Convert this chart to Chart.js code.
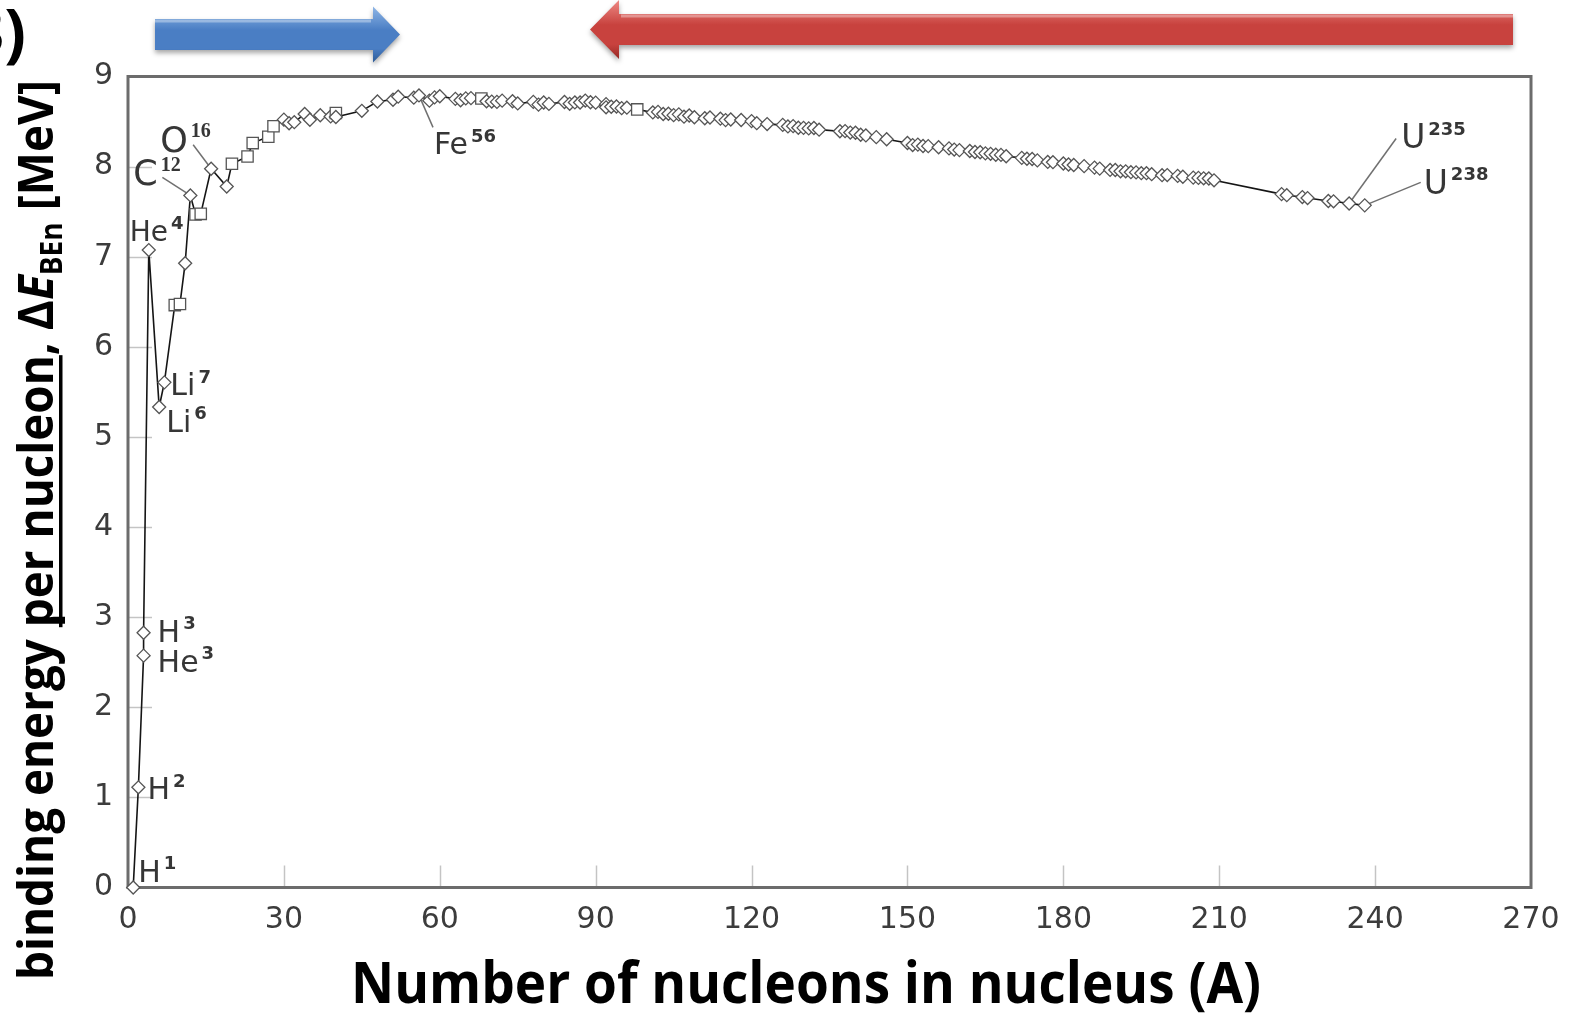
<!DOCTYPE html>
<html>
<head>
<meta charset="utf-8">
<script src="https://cdn.jsdelivr.net/npm/chart.js@4.4.1/dist/chart.umd.min.js"></script>
<style>
html,body{margin:0;padding:0;background:#fff;overflow:hidden}
canvas{display:block}
</style>
</head>
<body>
<canvas id="grafico" width="1572" height="1017"></canvas>
<script>
/* ===================== data ===================== */
const isotope = ['H1','H2','He3','H3','He4','Li6','Li7','Be9','B10','B11','C12','C13','N14','O16','F19','Ne20','Na23','Mg24','Al27','Si28',
  'Si30','P31','S32','S34','Cl35','Cl37','K39','Ar40','Ca40','Sc45','Ti48','V51','Cr52','Mn55','Fe56','Ni58','Co59','Ni60','Cu63','Zn64',
  'Cu65','Zn66','Zn68','Ga69','Ge70','Ga71','Ge72','Ge74','As75','Se78','Br79','Se80','Br81','Kr84','Rb85','Kr86','Rb87','Sr88','Y89','Zr90',
  'Zr92','Mo92','Nb93','Zr94','Mo95','Mo96','Mo98','Ru101','Ru102','Rh103','Ru104','Pd105','Pd106','Ag107','Pd108','Ag109','Cd111','Cd112','Cd114','In115',
  'Sn116','Sn118','Sn120','Sb121','Sb123','Te126','I127','Te128','Xe129','Te130','Xe131','Xe132','Cs133','Ba137','Ba138','La139','Ce140','Pr141','Nd142','Nd144',
  'Nd146','Sm150','Eu151','Sm152','Eu153','Sm154','Gd156','Gd158','Tb159','Gd160','Dy162','Dy163','Dy164','Ho165','Er166','Er167','Er168','Tm169','Yb172','Yb173',
  'Yb174','Lu175','Hf177','Hf178','Hf180','Ta181','W182','W184','W186','Re187','Os189','Os190','Ir191','Os192','Ir193','Pt194','Pt195','Pt196','Au197','Hg199',
  'Hg200','Hg202','Tl203','Tl205','Pb206','Pb207','Pb208','Bi209','Rn222','Fr223','Ra226','Ac227','Pa231','Th232','U235','U238'];

const massNumber = [1,2,3,3,4,6,7,9,10,11,12,13,14,16,19,20,23,24,27,28,
  30,31,32,34,35,37,39,40,40,45,48,51,52,55,56,58,59,60,63,64,
  65,66,68,69,70,71,72,74,75,78,79,80,81,84,85,86,87,88,89,90,
  92,92,93,94,95,96,98,101,102,103,104,105,106,107,108,109,111,112,114,115,
  116,118,120,121,123,126,127,128,129,130,131,132,133,137,138,139,140,141,142,144,
  146,150,151,152,153,154,156,158,159,160,162,163,164,165,166,167,168,169,172,173,
  174,175,177,178,180,181,182,184,186,187,189,190,191,192,193,194,195,196,197,199,
  200,202,203,205,206,207,208,209,222,223,226,227,231,232,235,238];

// MeV per nucleon
const bindingPerNucleon = [0,1.112,2.573,2.827,7.074,5.332,5.606,6.463,6.475,6.928,7.680,7.470,7.476,7.976,7.779,8.032,8.112,8.261,8.332,8.448,
  8.521,8.481,8.493,8.584,8.520,8.570,8.557,8.595,8.551,8.619,8.723,8.742,8.776,8.765,8.790,8.732,8.768,8.781,8.752,8.736,
  8.757,8.760,8.756,8.725,8.722,8.718,8.732,8.725,8.701,8.718,8.688,8.711,8.696,8.717,8.697,8.712,8.711,8.733,8.714,8.710,
  8.693,8.658,8.664,8.667,8.649,8.654,8.635,8.601,8.607,8.584,8.587,8.571,8.580,8.554,8.567,8.548,8.537,8.545,8.532,8.516,
  8.523,8.517,8.505,8.482,8.472,8.463,8.446,8.449,8.431,8.430,8.424,8.428,8.410,8.392,8.394,8.378,8.376,8.354,8.346,8.327,
  8.304,8.262,8.239,8.244,8.229,8.227,8.215,8.202,8.189,8.183,8.173,8.162,8.159,8.147,8.142,8.132,8.130,8.115,8.097,8.087,
  8.084,8.069,8.052,8.049,8.035,8.023,8.018,8.005,7.989,7.978,7.963,7.962,7.948,7.948,7.938,7.936,7.927,7.927,7.916,7.905,
  7.906,7.897,7.887,7.878,7.875,7.870,7.868,7.848,7.695,7.683,7.662,7.651,7.618,7.615,7.591,7.570];

const squareIsotopes = ['Be9','B10','C13','N14','Ne20','Na23','Mg24','Al27','Si28','Ar40','Zn68','Mo98'];

const xTicks = [0,30,60,90,120,150,180,210,240,270];
const yTicks = [0,1,2,3,4,5,6,7,8,9];

const xTitle = 'Number of nucleons in nucleus (A)';
const yTitleParts = ['binding energy ', 'per nucleon', ', \u0394', 'E', 'BEn', ' [MeV]'];
const panelTag = '3)';

// labelled nuclides: symbol + mass number superscript
const labelIso = ['H1','H2','H3','He3','He4','Li7','Li6','C12','O16','Fe56','U235','U238'];
const labelSym = ['H','H','H','He','He','Li','Li','C','O','Fe','U','U'];
const labelSup = ['1','2','3','3','4','7','6','12','16','56','235','238'];

/* ---------- label placement (px offsets from the point) ---------- */
const labelStyle = {
  H1:  {dx:5,  dy:-6, size:30},
  H2:  {dx:9,  dy:12, size:30},
  H3:  {dx:14, dy:9,  size:30},
  He3: {dx:14, dy:16, size:30},
  He4: {dx:-19,dy:-9, size:28},
  Li7: {dx:6,  dy:13, size:30},
  Li6: {dx:7,  dy:25, size:30},
  C12: {dx:-57,dy:-10,size:35, serifSup:true, leader:[-28,-18]},
  O16: {dx:-51,dy:-17,size:35, serifSup:true, leader:[-18,-24]},
  Fe56:{dx:15, dy:59, size:30, leader:[14,32]},
  U235:{dx:52, dy:-55,size:33, leader:[47,-65]},
  U238:{dx:59, dy:-11,size:33, leader:[56,-23]}
};

/* ================= helpers ========================= */
function arrow(ctx, tipX, baseX, endX, cy, shaftHalf, headHalf, light, mid, dark){
  const dir = Math.sign(tipX - baseX);
  const g = ctx.createLinearGradient(0, cy - headHalf, 0, cy + headHalf);
  g.addColorStop(0, light); g.addColorStop(0.42, mid); g.addColorStop(0.75, mid); g.addColorStop(1, dark);
  ctx.save();
  ctx.shadowColor = 'rgba(0,0,0,0.35)'; ctx.shadowBlur = 5; ctx.shadowOffsetY = 3;
  ctx.fillStyle = g;
  ctx.beginPath();
  ctx.moveTo(endX, cy - shaftHalf);
  ctx.lineTo(baseX, cy - shaftHalf);
  ctx.lineTo(baseX, cy - headHalf);
  ctx.lineTo(tipX, cy);
  ctx.lineTo(baseX, cy + headHalf);
  ctx.lineTo(baseX, cy + shaftHalf);
  ctx.lineTo(endX, cy + shaftHalf);
  ctx.closePath();
  ctx.fill();
  ctx.restore();
  // bevel highlight on the top edge
  ctx.save();
  ctx.strokeStyle = 'rgba(255,255,255,0.35)'; ctx.lineWidth = 3;
  ctx.beginPath();
  ctx.moveTo(endX, cy - shaftHalf + 2);
  ctx.lineTo(baseX - dir*2, cy - shaftHalf + 2);
  ctx.stroke();
  ctx.restore();
}

function pointPx(chart, iso){
  const i = isotope.indexOf(iso);
  return [chart.scales.x.getPixelForValue(massNumber[i]), chart.scales.y.getPixelForValue(bindingPerNucleon[i])];
}

/* ================= decorations plugin ================= */
const decor = {
  id:'decor',
  beforeDraw(chart){
    const ctx = chart.ctx;
    ctx.save();
    ctx.fillStyle = '#fff';
    ctx.fillRect(0, 0, chart.width, chart.height);
    ctx.restore();
  },
  beforeDatasetsDraw(chart){
    const ctx = chart.ctx, {left,right,top,bottom} = chart.chartArea;
    const xs = chart.scales.x, ys = chart.scales.y;
    ctx.save();
    // inward ticks
    ctx.strokeStyle = '#c4c4c4'; ctx.lineWidth = 1.5;
    xTicks.slice(1, -1).forEach(v => {
      const px = Math.round(xs.getPixelForValue(v)) + 0.5;
      ctx.beginPath(); ctx.moveTo(px, bottom); ctx.lineTo(px, bottom - 22); ctx.stroke();
    });
    yTicks.slice(1, -1).forEach(v => {
      const py = Math.round(ys.getPixelForValue(v)) + 0.5;
      ctx.beginPath(); ctx.moveTo(left, py); ctx.lineTo(left + 24, py); ctx.stroke();
    });
    // frame
    ctx.strokeStyle = '#6c6c6c'; ctx.lineWidth = 3;
    ctx.strokeRect(left, top, right - left, bottom - top);
    // leader lines
    ctx.strokeStyle = '#707070'; ctx.lineWidth = 1.5;
    labelIso.forEach(iso => {
      const st = labelStyle[iso];
      if (!st.leader) return;
      const [px, py] = pointPx(chart, iso);
      ctx.beginPath(); ctx.moveTo(px, py); ctx.lineTo(px + st.leader[0], py + st.leader[1]); ctx.stroke();
    });
    ctx.restore();
  },
  afterDatasetsDraw(chart){
    const ctx = chart.ctx;
    ctx.save();
    // nuclide labels
    ctx.fillStyle = '#363636';
    ctx.textBaseline = 'alphabetic'; ctx.textAlign = 'left';
    labelIso.forEach((iso, k) => {
      const st = labelStyle[iso];
      const [px, py] = pointPx(chart, iso);
      const x = px + st.dx, y = py + st.dy;
      ctx.font = `${st.size}px "DejaVu Sans"`;
      ctx.fillText(labelSym[k], x, y);
      const w = ctx.measureText(labelSym[k]).width;
      ctx.font = st.serifSup ? 'bold 20px "Liberation Serif"' : '600 18px "DejaVu Sans"';
      ctx.fillText(labelSup[k], x + w + 3, y - st.size * 0.42);
    });

    // arrows
    arrow(ctx, 400, 373, 155, 34.5, 15.5, 28, '#8fb6e6', '#4a7ec4', '#2c5a96');
    arrow(ctx, 590, 619, 1513, 29.5, 15.5, 29.5, '#ee8a85', '#c8423e', '#952925');

    // x title
    ctx.fillStyle = '#000';
    ctx.font = 'bold 57px "Open Sans"';
    const tw = ctx.measureText(xTitle).width;
    ctx.save();
    ctx.translate(806, 1003);
    ctx.scale(910 / tw, 1);
    ctx.textAlign = 'center';
    ctx.fillText(xTitle, 0, 0);
    ctx.restore();

    // y title (rotated, mixed styles)
    const fonts = ['bold 49px "Open Sans"','bold 49px "Open Sans"','bold 49px "Open Sans"',
                   'italic bold 49px "Open Sans"','bold 30px "Open Sans"','bold 49px "Open Sans"'];
    const shift = [0,0,0,0,9,0];
    let total = 0;
    const widths = yTitleParts.map((t, i) => { ctx.font = fonts[i]; const w = ctx.measureText(t).width; total += w; return w; });
    ctx.save();
    ctx.translate(53, 980);
    ctx.rotate(-Math.PI / 2);
    ctx.scale(900 / total, 1);
    ctx.textAlign = 'left';
    let cx = 0;
    yTitleParts.forEach((t, i) => {
      ctx.font = fonts[i];
      ctx.fillText(t, cx, shift[i]);
      if (i === 1) ctx.fillRect(cx, 6, widths[i], 3.5);
      cx += widths[i];
    });
    ctx.restore();

    // panel tag, clipped by the page edge
    ctx.font = 'bold 64px "Open Sans"';
    ctx.textAlign = 'right';
    ctx.fillText(panelTag, 26, 55);
    ctx.restore();
  }
};

/* ================= chart ========================= */
const styles = isotope.map(n => squareIsotopes.includes(n) ? 'rect' : 'rectRot');
const radii = isotope.map(n => squareIsotopes.includes(n) ? 8 : 6.5);

new Chart(document.getElementById('grafico').getContext('2d'), {
  type:'line',
  data:{datasets:[{
    data: massNumber.map((a, i) => ({x:a, y:bindingPerNucleon[i]})),
    borderColor:'#151515', borderWidth:1.6, tension:0, fill:false,
    pointStyle: styles, pointRadius: radii,
    pointBackgroundColor:'#fff', pointBorderColor:'#555', pointBorderWidth:1.3,
    clip:false
  }]},
  options:{
    responsive:false, animation:false, devicePixelRatio:1,
    layout:{padding:{left:0, right:41, top:76.5, bottom:0}},
    plugins:{legend:{display:false}, tooltip:{enabled:false}},
    scales:{
      x:{
        type:'linear', min:0, max:270,
        afterBuildTicks:s => { s.ticks = xTicks.map(v => ({value:v})); },
        afterFit:s => { s.height = 1017 - 887.5; s.paddingLeft = 0; s.paddingRight = 0; },
        grid:{display:false, drawTicks:false}, border:{display:false},
        ticks:{font:{family:'DejaVu Sans', size:30}, color:'#3c3c3c', padding:15, maxRotation:0, autoSkip:false}
      },
      y:{
        type:'linear', min:0, max:9,
        afterBuildTicks:s => { s.ticks = yTicks.map(v => ({value:v})); },
        afterFit:s => { s.width = 128; s.paddingTop = 0; s.paddingBottom = 0; },
        grid:{display:false, drawTicks:false}, border:{display:false},
        ticks:{font:{family:'DejaVu Sans', size:30}, color:'#3c3c3c', padding:15, autoSkip:false}
      }
    }
  },
  plugins:[decor]
});
</script>
</body>
</html>
